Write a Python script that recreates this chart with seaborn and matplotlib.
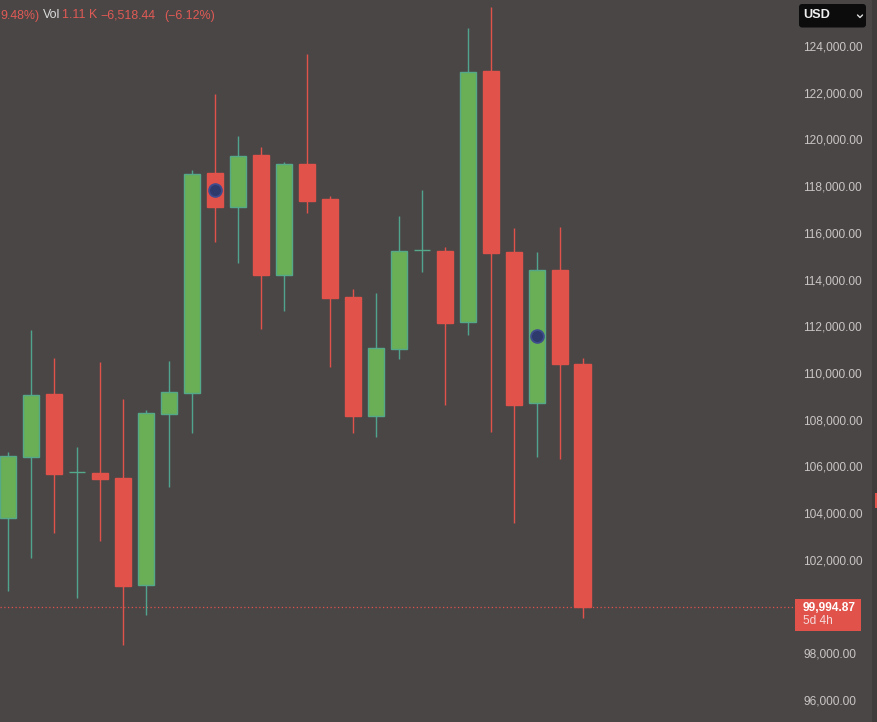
import numpy as np
import pandas as pd
import matplotlib
matplotlib.use("Agg")
import matplotlib.pyplot as plt
from matplotlib.patches import Rectangle, FancyBboxPatch
from matplotlib.lines import Line2D
import seaborn as sns

# ---------------- data ----------------
opens = [103776, 106388, 109099, 105740, 105716, 105502, 100920, 108255, 109129, 118562,
         117119, 119333, 114207, 118947, 117461, 113265, 108169, 111013, 115250, 115235,
         112195, 122942, 115179, 108700, 114408, 110383]
highs = [106602, 111839, 110653, 106842, 110469, 108885, 108414, 110512, 118690, 121945,
         120146, 119688, 119046, 123650, 117577, 113582, 113410, 116721, 117834, 115406,
         124758, 125683, 116194, 115166, 116262, 110627]
lows = [100676, 102089, 103134, 100376, 102804, 98351, 99648, 105129, 107416, 115594,
        114708, 111882, 112666, 116836, 110268, 107416, 107270, 110584, 114336, 108628,
        111625, 107471, 103561, 106414, 106302, 99494]
closes = [106444, 109056, 105673, 105760, 105472, 100890, 108285, 109184, 118506, 117106,
          119277, 114207, 118934, 117376, 113222, 108169, 111055, 115222, 115280, 112152,
          122887, 115123, 108628, 114395, 110370, 99994.87]
marker_idx = [9, 23]
marker_price = [117834, 111583]
# 100,000 is hidden behind the last-price label in the reference
y_ticks = [96000, 98000, 102000, 104000, 106000, 108000, 110000, 112000, 114000,
           116000, 118000, 120000, 122000, 124000]
last_label = "99,994.87"
countdown = "5d 4h"
header_parts = [("9.48%)", "red"), ("Vol", "gray"), ("1.11 K", "red"),
                ("\u22126,518.44", "red"), ("(\u22126.12%)", "red")]
currency = "USD"

df = pd.DataFrame({"i": np.arange(len(opens)), "open": opens, "high": highs,
                   "low": lows, "close": closes})
df["up"] = df["close"] >= df["open"]

# ---------------- style ----------------
BG = "#4a4646"
GREEN = "#6aae55"
GREEN_EDGE = "#55a88a"
GREEN_WICK = "#50a48e"
RED = "#e0524a"
TXT = "#c9c5c5"

sns.set_theme(style="dark", rc={"axes.facecolor": BG, "figure.facecolor": BG,
                                "axes.grid": False})
plt.rcParams["font.family"] = ["Liberation Sans", "DejaVu Sans"]

W, H = 877, 722
fig = plt.figure(figsize=(W / 100, H / 100), dpi=100)
ax = fig.add_axes([0, 0, 795 / W, 1])
ax.set_facecolor(BG)
for s in ax.spines.values():
    s.set_visible(False)

# wicks
for _, r in df.iterrows():
    c = GREEN_WICK if r["up"] else RED
    ax.vlines(r["i"], r["low"], r["high"], color=c, lw=1.0, zorder=2)

# bodies
for _, r in df.iterrows():
    lo = min(r["open"], r["close"])
    h = max(abs(r["close"] - r["open"]), 15)
    if r["up"]:
        ax.bar(r["i"], h, bottom=lo, width=0.70, color=GREEN, edgecolor=GREEN_EDGE,
               linewidth=1.0, zorder=3)
    else:
        ax.bar(r["i"], h, bottom=lo, width=0.70, color=RED, edgecolor=RED,
               linewidth=1.0, zorder=3)

# markers
mdf = pd.DataFrame({"i": marker_idx, "p": marker_price})
sns.scatterplot(data=mdf, x="i", y="p", ax=ax, s=85, color="#2f3a6c",
                edgecolor="#3e4c8e", linewidth=1.3, zorder=5, legend=False)

# last price line
ax.axhline(closes[-1], color=RED, lw=0.9, ls=(0, (1, 2)), zorder=1)

ax.set_xlim(-0.361, 34.25)
ax.set_ylim(95056, 125970)
ax.set_xticks([])
ax.set_yticks(y_ticks)
ax.set_yticklabels([f"{v:,.2f}" for v in y_ticks])
ax.yaxis.tick_right()
ax.tick_params(axis="y", length=0, pad=5.8, labelsize=8.6, labelcolor=TXT)
ax.set_xlabel("")
ax.set_ylabel("")

fig.canvas.draw()
ypx = ax.transData.transform((0, closes[-1]))[1]

# price label box
fig.add_artist(Rectangle((795, ypx - 24), 66, 32, transform=None,
                         facecolor=RED, edgecolor="none", zorder=6))
fig.text(803 / W, (ypx - 1) / H, last_label, color="white", fontsize=8.6,
         fontweight="bold", va="center", ha="left", zorder=7)
fig.text(803 / W, (ypx - 14.5) / H, countdown, color="#f4dada", fontsize=8.6,
         va="center", ha="left", zorder=7)

# right edge strip
fig.add_artist(Rectangle((872, 0), 5, H, transform=None, facecolor="#403c3c",
                         edgecolor="none", zorder=4))
fig.add_artist(Rectangle((875, H - 508), 2, 15, transform=None, facecolor=RED,
                         edgecolor="none", zorder=5))

# currency box
fig.add_artist(FancyBboxPatch((799, H - 27.5), 67, 23.5, boxstyle="round,pad=0,rounding_size=3",
                              transform=None, facecolor="#0c0c0c", edgecolor="none",
                              zorder=6))
fig.text(803 / W, (H - 15.5) / H, currency, color="#f0f0f0", fontsize=9.2,
         fontweight="bold", va="center", ha="left", zorder=7)
fig.add_artist(Line2D([857.5, 860, 862.5], [H - 15, H - 17.5, H - 15], transform=None,
                      color="#e0e0e0", lw=1.0, zorder=7))

# header text
xs = [0, 43, 62, 100, 164]
cols = {"red": "#e05a55", "gray": "#dcdcdc"}
for (t, c), x in zip(header_parts, xs):
    fig.text(x / W, (H - 15.5) / H, t, color=cols[c], fontsize=8.9,
             va="center", ha="left")

fig.savefig("out.png", dpi=100, facecolor=BG)
